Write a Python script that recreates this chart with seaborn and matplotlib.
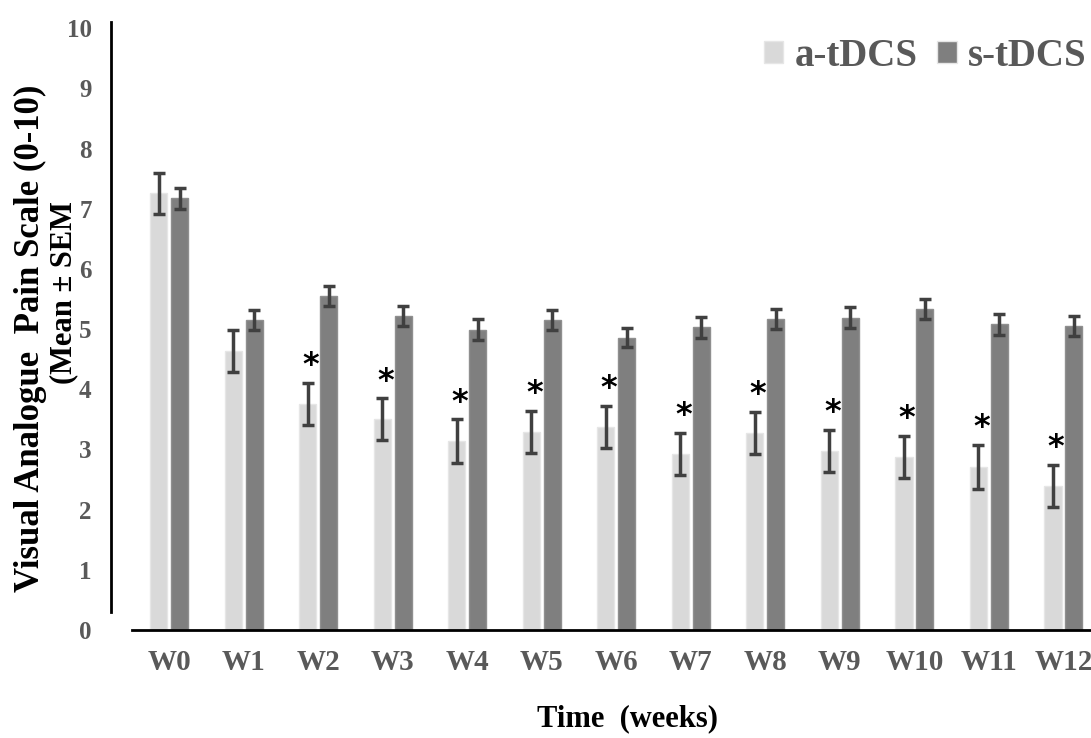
import pandas as pd
import numpy as np
import matplotlib
matplotlib.use("Agg")
import matplotlib.pyplot as plt
import seaborn as sns

# data
weeks = ["W0", "W1", "W2", "W3", "W4", "W5", "W6", "W7", "W8", "W9", "W10", "W11", "W12"]
a_mean = [7.26, 4.63, 3.75, 3.50, 3.14, 3.29, 3.37, 2.93, 3.28, 2.98, 2.87, 2.71, 2.40]
a_sem = [0.34, 0.35, 0.35, 0.35, 0.36, 0.35, 0.35, 0.35, 0.35, 0.35, 0.35, 0.36, 0.35]
s_mean = [7.17, 5.15, 5.55, 5.22, 4.99, 5.15, 4.86, 5.03, 5.17, 5.19, 5.33, 5.08, 5.05]
s_sem = [0.17, 0.17, 0.16, 0.17, 0.17, 0.17, 0.16, 0.17, 0.17, 0.17, 0.17, 0.17, 0.17]
signif = [False, False, True, True, True, True, True, True, True, True, True, True, True]

groups = ["a-tDCS", "s-tDCS"]
colors = {"a-tDCS": "#d9d9d9", "s-tDCS": "#7f7f7f"}

df = pd.DataFrame({
    "week": weeks * 2,
    "group": ["a-tDCS"] * len(weeks) + ["s-tDCS"] * len(weeks),
    "vas": a_mean + s_mean,
})

sns.set_style("white")
plt.rcParams["font.family"] = ["Liberation Serif", "DejaVu Serif"]
plt.rcParams["font.weight"] = "bold"

fig = plt.figure(figsize=(10.91, 7.38), dpi=100)
ax = fig.add_axes([0.121, 0.1463, 0.879, 0.8237])

sns.barplot(data=df, x="week", y="vas", hue="group", order=weeks, hue_order=groups,
            palette=colors, errorbar=None, width=0.56, gap=0.18, ax=ax,
            linewidth=1, edgecolor="#e6e6e6")

for patch in ax.containers[1]:
    patch.set_edgecolor("#8f8f8f")

# error bars (mean +/- SEM)
for cont, means, sems in [(ax.containers[0], a_mean, a_sem), (ax.containers[1], s_mean, s_sem)]:
    xs = [p.get_x() + p.get_width() / 2 for p in cont]
    ax.errorbar(xs, means, yerr=sems, fmt="none", ecolor="#404040",
                elinewidth=2.5, capsize=4, capthick=2.5, zorder=3)

# significance asterisks
xa = [p.get_x() + p.get_width() / 2 for p in ax.containers[0]]
for x, m, e, sig in zip(xa, a_mean, a_sem, signif):
    if sig:
        ax.text(x + 0.04, m + e + 0.03, "*", ha="center", va="bottom",
                fontsize=23, fontweight="bold", family="DejaVu Sans", color="black")

ax.set_xlim(-0.5, 12.37)
ax.set_ylim(0, 10.1)
ax.set_yticks(range(0, 11))
ax.set_xlabel("")
ax.set_ylabel("")

ax.tick_params(axis="y", labelsize=18, length=0, pad=14, labelcolor="#595959")
ax.tick_params(axis="x", labelsize=21, length=0, pad=14, labelcolor="#595959")

sns.despine(ax=ax, top=True, right=True)
ax.spines["left"].set_position(("outward", 15))
ax.spines["left"].set_bounds(0.3, 10.1)
ax.spines["left"].set_linewidth(2)
ax.spines["left"].set_color("black")
ax.spines["bottom"].set_linewidth(2)
ax.spines["bottom"].set_color("black")

leg = ax.legend(loc="upper right", bbox_to_anchor=(1.012, 1.0), borderaxespad=0,
                frameon=False, ncol=2,
                handlelength=0.5, handleheight=0.5, handletextpad=0.3, columnspacing=0.5,
                prop={"weight": "bold", "size": 28})
for t in leg.get_texts():
    t.set_color("#595959")

fig.text(0.028, 0.541, "Visual Analogue  Pain Scale (0-10)", rotation=90, ha="center", va="center",
         fontsize=25, fontweight="bold", color="black")
fig.text(0.058, 0.604, "(Mean \u00b1 SEM", rotation=90, ha="center", va="center",
         fontsize=22, fontweight="bold", color="black")
fig.text(0.575, 0.026, "Time  (weeks)", ha="center", va="center",
         fontsize=22, fontweight="bold", color="black")

plt.savefig("out.png", dpi=100)
